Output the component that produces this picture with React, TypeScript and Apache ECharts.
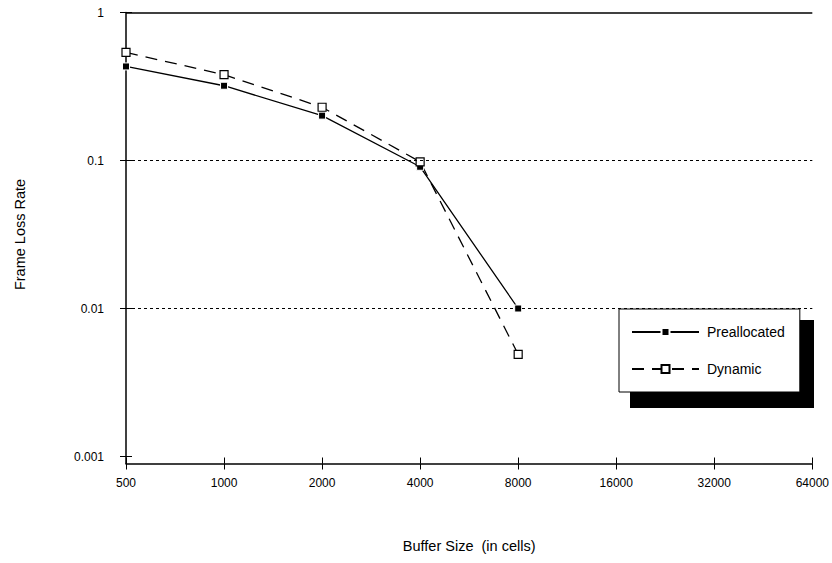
import React, { useEffect, useRef } from "react";
import * as echarts from "echarts";

const bufferSizes = ["500", "1000", "2000", "4000", "8000", "16000", "32000", "64000"];
const preallocated = [0.432, 0.32, 0.201, 0.0907, 0.01];
const dynamicRates = [0.537, 0.38, 0.229, 0.098, 0.0049];
const yTickValues = [0.001, 0.01, 0.1, 1];
const yTickLabels = ["0.001", "0.01", "0.1", "1"];
const gridLineValues = [0.1, 0.01];

const FONT = "'Liberation Sans', Arial, sans-serif";

function yLabel(v: number): string {
  let best = 0;
  let bestD = Infinity;
  yTickValues.forEach((t, i) => {
    const d = Math.abs(Math.log10(t) - Math.log10(v));
    if (d < bestD) {
      bestD = d;
      best = i;
    }
  });
  return yTickLabels[best];
}

export default function App() {
  const ref = useRef<HTMLDivElement>(null);
  useEffect(() => {
    if (!ref.current) return;
    const chart = echarts.init(ref.current, undefined, { renderer: "svg" });
    const axisLine = { show: true, lineStyle: { color: "#000", width: 1.5 } };
    chart.setOption({
      animation: false,
      backgroundColor: "#fff",
      textStyle: { fontFamily: FONT },
      grid: { left: 126, right: 17, top: 12.5, bottom: 106.5 },
      xAxis: [
        {
          type: "category",
          data: bufferSizes,
          boundaryGap: false,
          position: "bottom",
          offset: 7,
          axisLine,
          axisTick: { show: true, length: 6, lineStyle: { color: "#000", width: 1 } },
          axisLabel: { color: "#000", fontSize: 12, margin: 13, fontFamily: FONT },
          splitLine: { show: false },
          name: "Buffer Size  (in cells)",
          nameLocation: "middle",
          nameGap: 75,
          nameTextStyle: { color: "#000", fontSize: 14.5, fontFamily: FONT },
        },
        {
          type: "category",
          data: bufferSizes,
          boundaryGap: false,
          position: "bottom",
          offset: 7,
          axisLine: { show: false },
          axisTick: { show: true, inside: true, length: 6, lineStyle: { color: "#000", width: 1 } },
          axisLabel: { show: false },
          splitLine: { show: false },
        },
      ],
      yAxis: [
        {
          type: "log",
          logBase: 10,
          min: 0.001,
          max: 1,
          position: "left",
          axisLine,
          axisTick: { show: true, length: 6, lineStyle: { color: "#000", width: 1 } },
          axisLabel: {
            color: "#000",
            fontSize: 12,
            margin: 22,
            fontFamily: FONT,
            formatter: (v: number) => yLabel(v),
          },
          splitLine: { show: false },
          name: "Frame Loss Rate",
          nameLocation: "middle",
          nameGap: 99,
          nameTextStyle: { color: "#000", fontSize: 14.5, fontFamily: FONT },
        },
        {
          type: "log",
          logBase: 10,
          min: 0.001,
          max: 1,
          position: "left",
          axisLine: { show: false },
          axisTick: { show: true, inside: true, length: 6, lineStyle: { color: "#000", width: 1 } },
          axisLabel: { show: false },
          splitLine: { show: false },
        },
      ],
      legend: {
        orient: "vertical",
        left: 619,
        top: 309,
        padding: [16, 15, 16, 12],
        itemWidth: 67,
        itemHeight: 10,
        itemGap: 23,
        backgroundColor: "#fff",
        borderColor: "#000",
        borderWidth: 1,
        textStyle: { color: "#000", fontSize: 14, fontFamily: FONT, padding: [0, 0, 0, 3] },
        data: ["Preallocated", "Dynamic"],
      },
      graphic: [
        {
          type: "rect",
          z: 0,
          shape: { x: 630, y: 320, width: 184, height: 88 },
          style: { fill: "#000" },
        },
        {
          type: "line",
          z: 10,
          shape: { x1: 126, y1: 456, x2: 126, y2: 464 },
          style: { stroke: "#000", lineWidth: 1.5 },
        },
      ],
      series: [
        {
          name: "Preallocated",
          type: "line",
          data: preallocated,
          symbol: "rect",
          symbolSize: 7,
          itemStyle: { color: "#000", borderColor: "#fff", borderWidth: 1 },
          lineStyle: { color: "#000", width: 1.3, type: "solid" },
          markLine: {
            silent: true,
            symbol: ["none", "none"],
            label: { show: false },
            lineStyle: { color: "#000", width: 1, type: [3, 3] },
            data: [
              ...gridLineValues.map((v) => ({ yAxis: v })),
              { yAxis: 1, lineStyle: { type: "solid", width: 1.5, color: "#000" } },
            ],
          },
        },
        {
          name: "Dynamic",
          type: "line",
          data: dynamicRates,
          symbol: "rect",
          symbolSize: 8,
          itemStyle: { color: "#fff", borderColor: "#000", borderWidth: 1.2 },
          lineStyle: { color: "#000", width: 1.3, type: [12, 8] },
        },
      ],
    });
    return () => chart.dispose();
  }, []);
  return (
    <div
      ref={ref}
      style={{ position: "fixed", left: 0, top: 0, width: 832, height: 563 }}
    />
  );
}
